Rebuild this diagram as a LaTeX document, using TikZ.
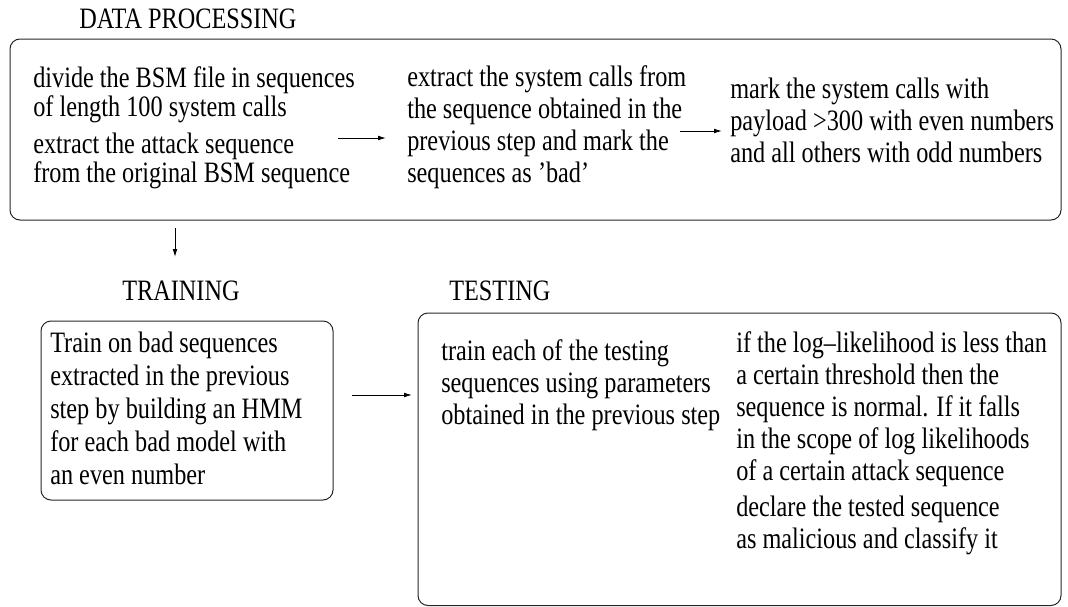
\documentclass[tikz,border=0pt]{standalone}
\usepackage{fontspec}
\newfontfamily\figfont[FakeStretch=0.82,Ligatures=TeX]{Liberation Serif}
\usetikzlibrary{arrows.meta,fit}
% fixed height for the first line of every text block
\newcommand\firstline{\rule{0pt}{16pt}}

\begin{document}
\begin{tikzpicture}[x=0.75pt,y=-0.75pt,
  box/.style={draw=black!85, line width=0.75pt, rounded corners=7.5pt, inner sep=0pt},
  txt/.style={font=\figfont\fontsize{22.2}{#1}\selectfont, align=left, anchor=north west, inner sep=0pt},
  title/.style={font=\figfont\fontsize{22.2}{24}\selectfont, anchor=base west, inner sep=0pt},
  flow/.style={draw=black, line width=0.75pt, -{Latex[length=6pt,width=3.6pt]}}]
\useasboundingbox (0,0) rectangle (1068,607);

% ---- data processing stage ----
\node[title] (dptitle) at (79,28) {DATA PROCESSING};
\node[box, fit={(10,39) (1061,220)}] (dp) {};
\node[txt=21.75pt] (split) at (33,65.67)
  {\firstline divide the BSM file in sequences\\ of length 100 system calls\\[6pt]
   extract the attack sequence\\ from the original BSM sequence};
\node[txt=24pt] (extract) at (407,64.67)
  {\firstline extract the system calls from\\ the sequence obtained in the\\
   previous step and mark the\\ sequences as 'bad'};
\node[txt=24pt] (mark) at (730,76.67)
  {\firstline mark the system calls with\\ payload >300 with even numbers\\
   and all others with odd numbers};
\coordinate (s1) at (338,138);  \coordinate (e1) at (386,138);
\coordinate (s2) at (680,131);  \coordinate (e2) at (722,131);
\draw[flow] (s1) -- (e1);
\draw[flow] (s2) -- (e2);

% ---- training stage ----
\coordinate (s3) at (175,228);  \coordinate (e3) at (175,257);
\draw[flow] (s3) -- (e3);
\node[title] (trtitle) at (122,300) {TRAINING};
\node[box, fit={(41,321) (333,500)}] (tr) {};
\node[txt=24.75pt] (train) at (50,330.67)
  {\firstline Train on bad sequences\\ extracted in the previous\\
   step by building an HMM\\ for each bad model with\\ an even number};

% ---- testing stage ----
\coordinate (s4) at (352,395);  \coordinate (e4) at (412,395);
\draw[flow] (s4) -- (e4);
\node[title] (tetitle) at (449,300) {TESTING};
\node[box, fit={(418,313) (1061,605.5)}] (te) {};
\node[txt=24pt] (score) at (441,338.67)
  {\firstline train each of the testing\\ sequences using parameters\\
   obtained in the previous step};
\node[txt=24pt] (decide) at (736,330.67)
  {\firstline if the log--likelihood is less than\\ a certain threshold then the\\
   sequence is normal. If it falls\\ in the scope of log likelihoods\\
   of a certain attack sequence\\[3pt] declare the tested sequence\\
   as malicious and classify it};
\end{tikzpicture}
\end{document}
